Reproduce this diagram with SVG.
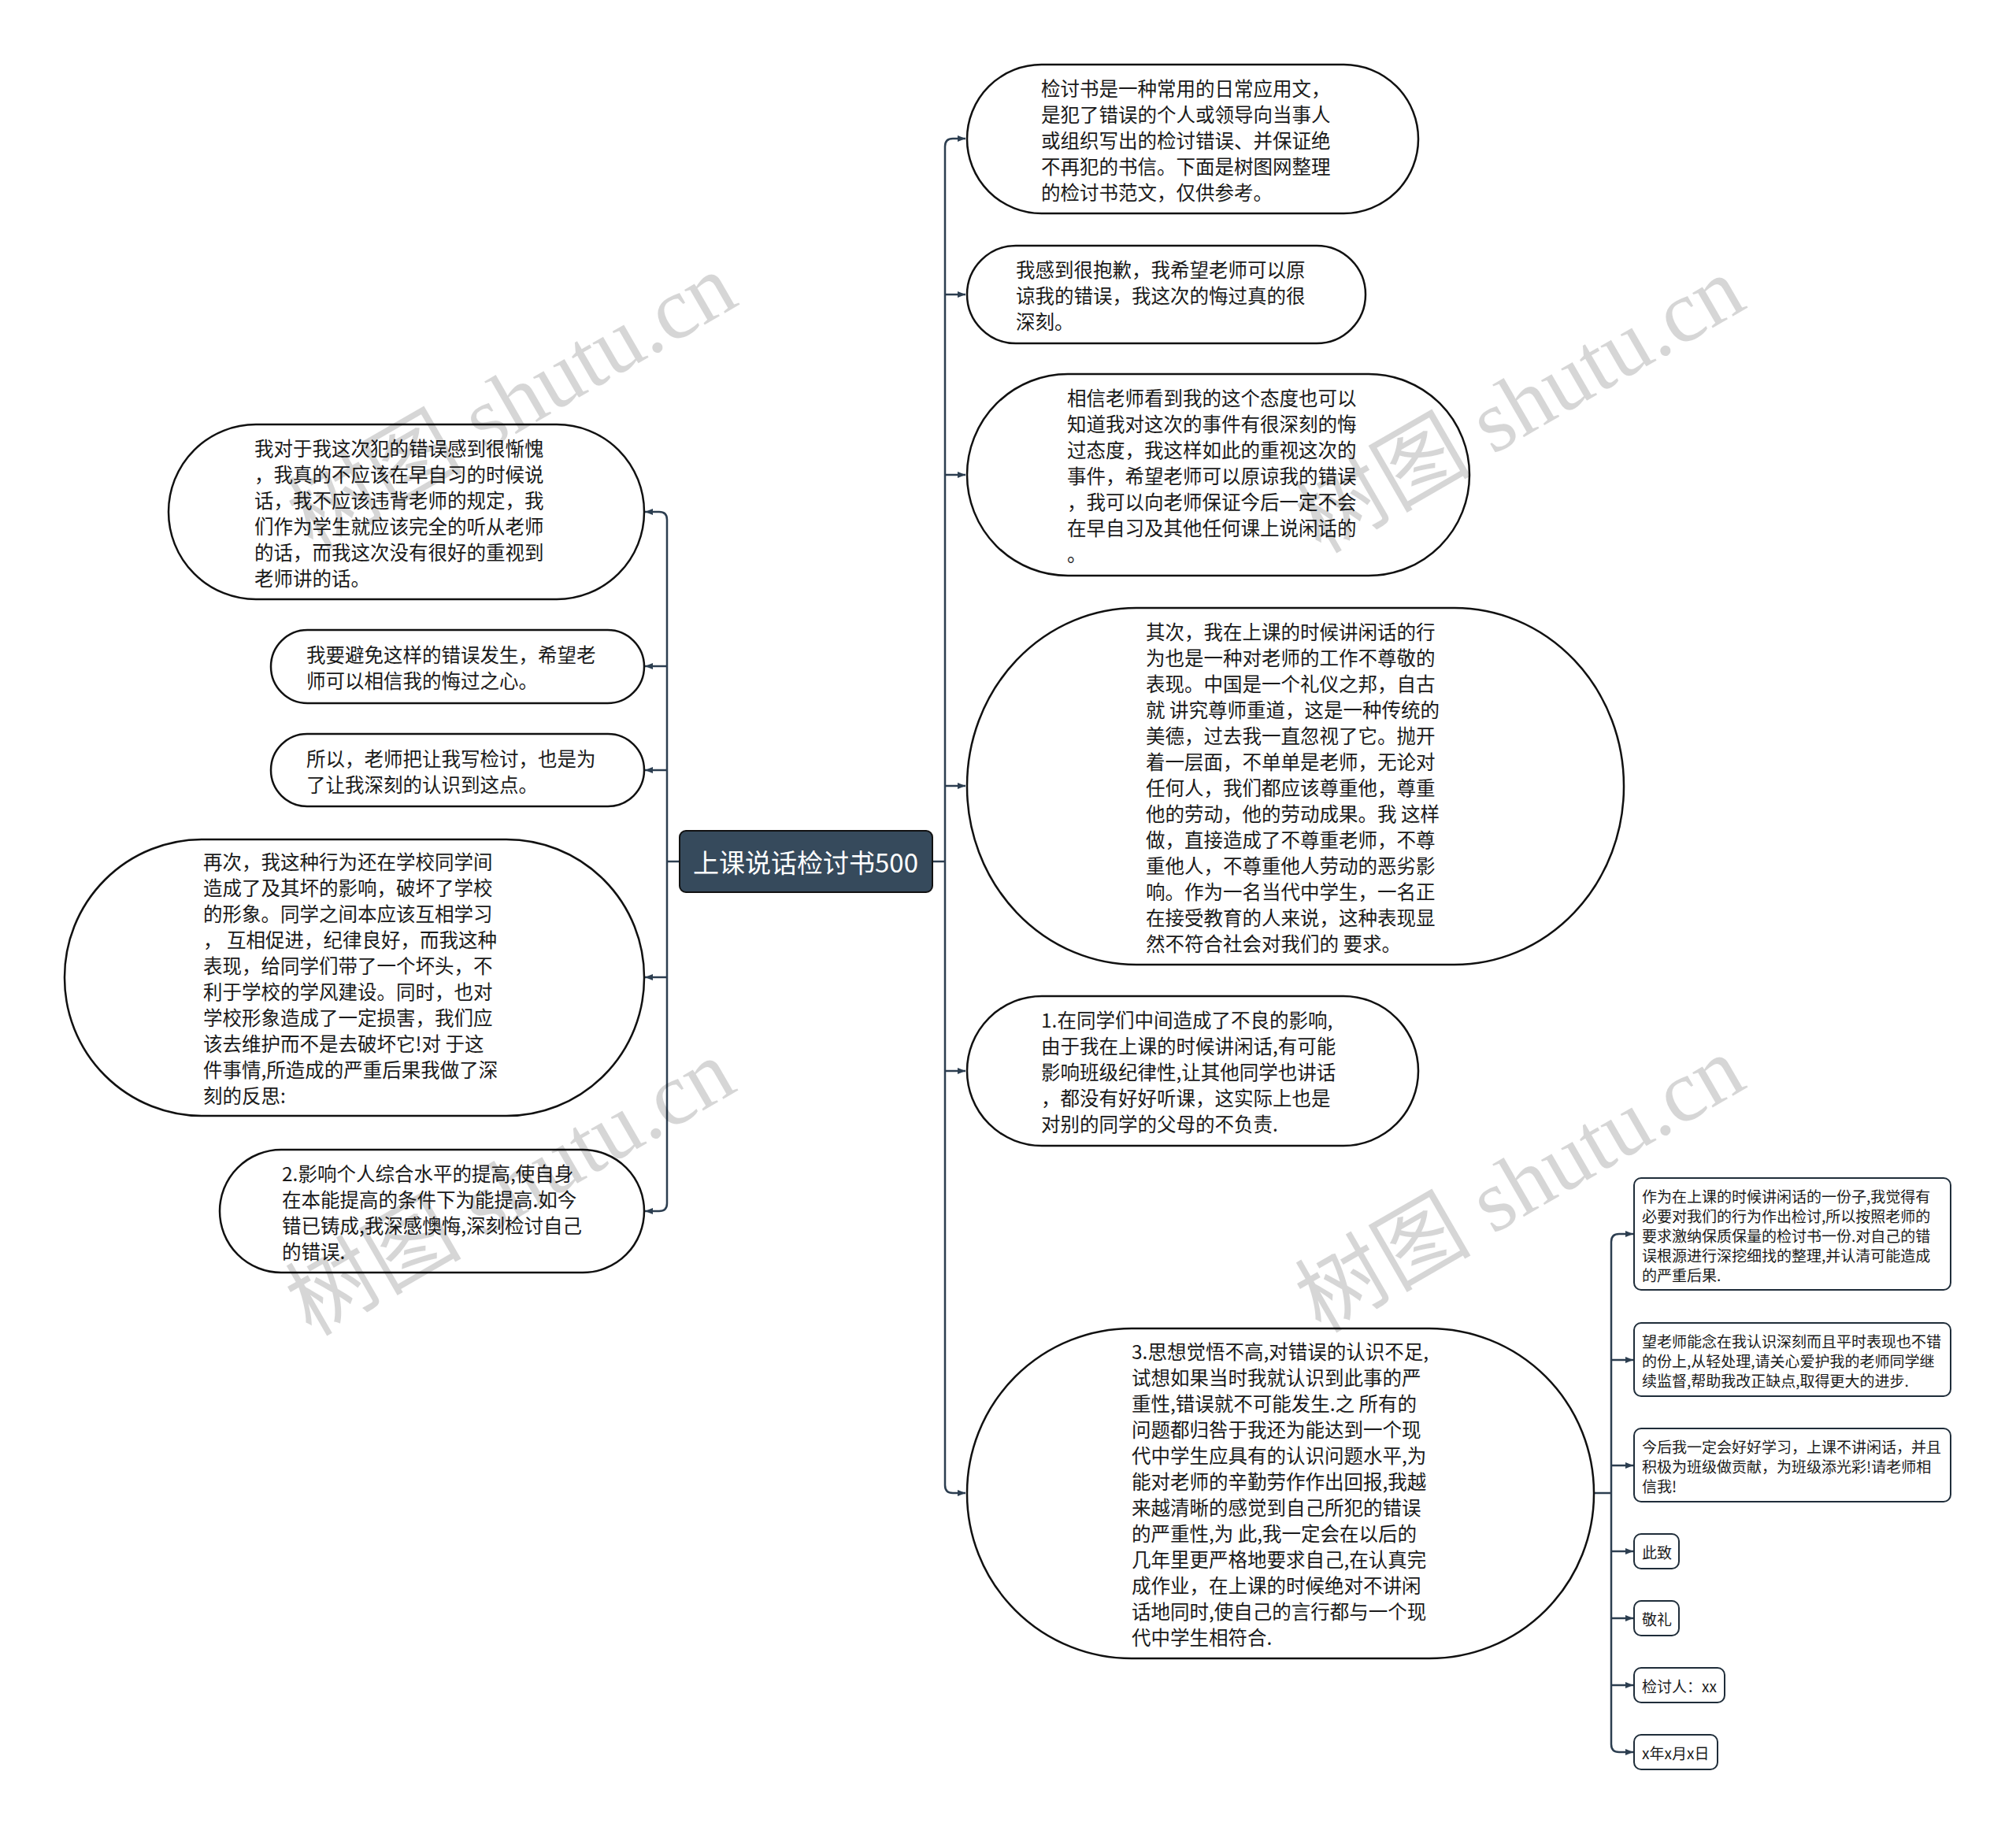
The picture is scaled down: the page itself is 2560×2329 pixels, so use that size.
<svg xmlns="http://www.w3.org/2000/svg" width="2560" height="2329" viewBox="0 0 2560 2329">
<defs>
<marker id="arr" viewBox="0 0 10 10" refX="10" refY="5" markerWidth="10" markerHeight="10" markerUnits="userSpaceOnUse" orient="auto"><path d="M0,1 L10,5 L0,9 z" fill="#2c3e50"/></marker>
<style>
.big{fill:#fff;stroke:#111;stroke-width:2.5}
.sm{fill:#fff;stroke:#1f2d3a;stroke-width:2}
.t{font-family:"Noto Sans CJK SC","Microsoft YaHei",sans-serif;font-size:24.5px;fill:#1a1a1a;dominant-baseline:central;white-space:pre}
.ts{font-family:"Noto Sans CJK SC","Microsoft YaHei",sans-serif;font-size:19px;fill:#1a1a1a;dominant-baseline:central;white-space:pre}
.c{fill:none;stroke:#2c3e50;stroke-width:2.5}
.a{fill:none;stroke:#2c3e50;stroke-width:2.5;marker-end:url(#arr)}
.wm{font-family:"Liberation Serif","Noto Sans CJK SC",serif;font-size:112px;fill:#000;fill-opacity:0.16;text-anchor:middle;dominant-baseline:central}
</style>
</defs>
<rect width="2560" height="2329" fill="#fff"/>

<g id="connectors">
<path class="c" d="M1184,1094 H1200"/>
<path class="c" d="M1200,186 V1886"/>
<path class="a" d="M1200,186 Q1200,176 1210,176 H1226"/>
<path class="a" d="M1200,374 H1226"/>
<path class="a" d="M1200,603 H1226"/>
<path class="a" d="M1200,998 H1226"/>
<path class="a" d="M1200,1360 H1226"/>
<path class="a" d="M1200,1886 Q1200,1896 1210,1896 H1226"/>
<path class="c" d="M863,1094 H847"/>
<path class="c" d="M847,660 V1528"/>
<path class="a" d="M847,660 Q847,650 837,650 H819"/>
<path class="a" d="M847,846 H819"/>
<path class="a" d="M847,978 H819"/>
<path class="a" d="M847,1241 H819"/>
<path class="a" d="M847,1528 Q847,1538 837,1538 H819"/>
<path class="c" d="M2024,1896 H2046"/>
<path class="c" d="M2046,1577 V2215"/>
<path class="a" d="M2046,1577 Q2046,1567 2056,1567 H2074"/>
<path class="a" d="M2046,1727 H2074"/>
<path class="a" d="M2046,1861 H2074"/>
<path class="a" d="M2046,1970 H2074"/>
<path class="a" d="M2046,2055 H2074"/>
<path class="a" d="M2046,2140 H2074"/>
<path class="a" d="M2046,2215 Q2046,2225 2056,2225 H2074"/>
</g>

<g id="root">
<rect x="863" y="1055" width="321" height="78" rx="8" fill="#364a5c" stroke="#111" stroke-width="2"/>
<text x="1023" y="1094" font-family="Noto Sans CJK SC, sans-serif" font-size="33" fill="#fff" text-anchor="middle" dominant-baseline="central">上课说话检讨书500</text>
</g>

<g id="r1">
<rect class="big" x="1228" y="82" width="573" height="189" rx="94.5"/>
<text class="t" x="1322"><tspan x="1322" y="110.5">检讨书是一种常用的日常应用文，</tspan><tspan x="1322" y="143.5">是犯了错误的个人或领导向当事人</tspan><tspan x="1322" y="176.5">或组织写出的检讨错误、并保证绝</tspan><tspan x="1322" y="209.5">不再犯的书信。下面是树图网整理</tspan><tspan x="1322" y="242.5">的检讨书范文，仅供参考。</tspan></text>
</g>

<g id="r2">
<rect class="big" x="1228" y="312" width="506" height="124" rx="62"/>
<text class="t"><tspan x="1290" y="341">我感到很抱歉，我希望老师可以原</tspan><tspan x="1290" y="374">谅我的错误，我这次的悔过真的很</tspan><tspan x="1290" y="407">深刻。</tspan></text>
</g>

<g id="r3">
<rect class="big" x="1228" y="475" width="638" height="256" rx="128"/>
<text class="t"><tspan x="1355" y="504">相信老师看到我的这个态度也可以</tspan><tspan x="1355" y="537">知道我对这次的事件有很深刻的悔</tspan><tspan x="1355" y="570">过态度，我这样如此的重视这次的</tspan><tspan x="1355" y="603">事件，希望老师可以原谅我的错误</tspan><tspan x="1355" y="636">，我可以向老师保证今后一定不会</tspan><tspan x="1355" y="669">在早自习及其他任何课上说闲话的</tspan><tspan x="1355" y="702">。</tspan></text>
</g>

<g id="r4">
<rect class="big" x="1228" y="772" width="834" height="453" rx="215" ry="226"/>
<text class="t"><tspan x="1455" y="800.5">其次，我在上课的时候讲闲话的行</tspan><tspan x="1455" y="833.5">为也是一种对老师的工作不尊敬的</tspan><tspan x="1455" y="866.5">表现。中国是一个礼仪之邦，自古</tspan><tspan x="1455" y="899.5">就 讲究尊师重道，这是一种传统的</tspan><tspan x="1455" y="932.5">美德，过去我一直忽视了它。抛开</tspan><tspan x="1455" y="965.5">着一层面，不单单是老师，无论对</tspan><tspan x="1455" y="998.5">任何人，我们都应该尊重他，尊重</tspan><tspan x="1455" y="1031.5">他的劳动，他的劳动成果。我 这样</tspan><tspan x="1455" y="1064.5">做，直接造成了不尊重老师，不尊</tspan><tspan x="1455" y="1097.5">重他人，不尊重他人劳动的恶劣影</tspan><tspan x="1455" y="1130.5">响。作为一名当代中学生，一名正</tspan><tspan x="1455" y="1163.5">在接受教育的人来说，这种表现显</tspan><tspan x="1455" y="1196.5">然不符合社会对我们的 要求。</tspan></text>
</g>

<g id="r5">
<rect class="big" x="1228" y="1265" width="573" height="190" rx="95"/>
<text class="t"><tspan x="1322" y="1294">1.在同学们中间造成了不良的影响,</tspan><tspan x="1322" y="1327">由于我在上课的时候讲闲话,有可能</tspan><tspan x="1322" y="1360">影响班级纪律性,让其他同学也讲话</tspan><tspan x="1322" y="1393">，都没有好好听课，这实际上也是</tspan><tspan x="1322" y="1426">对别的同学的父母的不负责.</tspan></text>
</g>

<g id="r6">
<rect class="big" x="1228" y="1687" width="796" height="419" rx="209"/>
<text class="t"><tspan x="1437" y="1715">3.思想觉悟不高,对错误的认识不足,</tspan><tspan x="1437" y="1748">试想如果当时我就认识到此事的严</tspan><tspan x="1437" y="1781">重性,错误就不可能发生.之 所有的</tspan><tspan x="1437" y="1814">问题都归咎于我还为能达到一个现</tspan><tspan x="1437" y="1847">代中学生应具有的认识问题水平,为</tspan><tspan x="1437" y="1880">能对老师的辛勤劳作作出回报,我越</tspan><tspan x="1437" y="1913">来越清晰的感觉到自己所犯的错误</tspan><tspan x="1437" y="1946">的严重性,为 此,我一定会在以后的</tspan><tspan x="1437" y="1979">几年里更严格地要求自己,在认真完</tspan><tspan x="1437" y="2012">成作业，在上课的时候绝对不讲闲</tspan><tspan x="1437" y="2045">话地同时,使自己的言行都与一个现</tspan><tspan x="1437" y="2078">代中学生相符合.</tspan></text>
</g>

<g id="s1">
<rect class="sm" x="2075" y="1496" width="402" height="142" rx="9"/>
<text class="ts"><tspan x="2085" y="1518">作为在上课的时候讲闲话的一份子,我觉得有</tspan><tspan x="2085" y="1543">必要对我们的行为作出检讨,所以按照老师的</tspan><tspan x="2085" y="1568">要求激纳保质保量的检讨书一份.对自己的错</tspan><tspan x="2085" y="1593">误根源进行深挖细找的整理,并认清可能造成</tspan><tspan x="2085" y="1618">的严重后果.</tspan></text>
</g>
<g id="s2">
<rect class="sm" x="2075" y="1680" width="402" height="93" rx="9"/>
<text class="ts"><tspan x="2085" y="1702">望老师能念在我认识深刻而且平时表现也不错</tspan><tspan x="2085" y="1727">的份上,从轻处理,请关心爱护我的老师同学继</tspan><tspan x="2085" y="1752">续监督,帮助我改正缺点,取得更大的进步.</tspan></text>
</g>
<g id="s3">
<rect class="sm" x="2075" y="1814" width="402" height="93" rx="9"/>
<text class="ts"><tspan x="2085" y="1836">今后我一定会好好学习，上课不讲闲话，并且</tspan><tspan x="2085" y="1861">积极为班级做贡献，为班级添光彩!请老师相</tspan><tspan x="2085" y="1886">信我!</tspan></text>
</g>
<g id="s4">
<rect class="sm" x="2075" y="1948" width="57" height="44" rx="9"/>
<text class="ts" x="2085" y="1970">此致</text>
</g>
<g id="s5">
<rect class="sm" x="2075" y="2033" width="57" height="44" rx="9"/>
<text class="ts" x="2085" y="2055">敬礼</text>
</g>
<g id="s6">
<rect class="sm" x="2075" y="2118" width="115" height="44" rx="9"/>
<text class="ts" x="2085" y="2140">检讨人：xx</text>
</g>
<g id="s7">
<rect class="sm" x="2075" y="2203" width="106" height="44" rx="9"/>
<text class="ts" x="2085" y="2225">x年x月x日</text>
</g>

<g id="l1">
<rect class="big" x="214" y="539" width="604" height="222" rx="111"/>
<text class="t"><tspan x="323" y="567.5">我对于我这次犯的错误感到很惭愧</tspan><tspan x="323" y="600.5">，我真的不应该在早自习的时候说</tspan><tspan x="323" y="633.5">话，我不应该违背老师的规定，我</tspan><tspan x="323" y="666.5">们作为学生就应该完全的听从老师</tspan><tspan x="323" y="699.5">的话，而我这次没有很好的重视到</tspan><tspan x="323" y="732.5">老师讲的话。</tspan></text>
</g>
<g id="l2">
<rect class="big" x="344" y="800" width="474" height="93" rx="46.5"/>
<text class="t"><tspan x="389" y="830">我要避免这样的错误发生，希望老</tspan><tspan x="389" y="863">师可以相信我的悔过之心。</tspan></text>
</g>
<g id="l3">
<rect class="big" x="344" y="932" width="474" height="92" rx="46"/>
<text class="t"><tspan x="389" y="961.5">所以，老师把让我写检讨，也是为</tspan><tspan x="389" y="994.5">了让我深刻的认识到这点。</tspan></text>
</g>
<g id="l4">
<rect class="big" x="82" y="1066" width="736" height="351" rx="175"/>
<text class="t"><tspan x="258" y="1093">再次，我这种行为还在学校同学间</tspan><tspan x="258" y="1126">造成了及其坏的影响，破坏了学校</tspan><tspan x="258" y="1159">的形象。同学之间本应该互相学习</tspan><tspan x="258" y="1192">， 互相促进，纪律良好，而我这种</tspan><tspan x="258" y="1225">表现，给同学们带了一个坏头，不</tspan><tspan x="258" y="1258">利于学校的学风建设。同时，也对</tspan><tspan x="258" y="1291">学校形象造成了一定损害，我们应</tspan><tspan x="258" y="1324">该去维护而不是去破坏它!对 于这</tspan><tspan x="258" y="1357">件事情,所造成的严重后果我做了深</tspan><tspan x="258" y="1390">刻的反思:</tspan></text>
</g>
<g id="l5">
<rect class="big" x="279" y="1460" width="539" height="156" rx="78"/>
<text class="t"><tspan x="358" y="1488.5">2.影响个人综合水平的提高,使自身</tspan><tspan x="358" y="1521.5">在本能提高的条件下为能提高.如今</tspan><tspan x="358" y="1554.5">错已铸成,我深感懊悔,深刻检讨自己</tspan><tspan x="358" y="1587.5">的错误.</tspan></text>
</g>

<g id="watermarks">
<text class="wm" transform="translate(650,510) rotate(-30)">树图 shutu.cn</text>
<text class="wm" transform="translate(1930,514) rotate(-30)">树图 shutu.cn</text>
<text class="wm" transform="translate(648,1508) rotate(-30)">树图 shutu.cn</text>
<text class="wm" transform="translate(1930,1504) rotate(-30)">树图 shutu.cn</text>
</g>
</svg>
